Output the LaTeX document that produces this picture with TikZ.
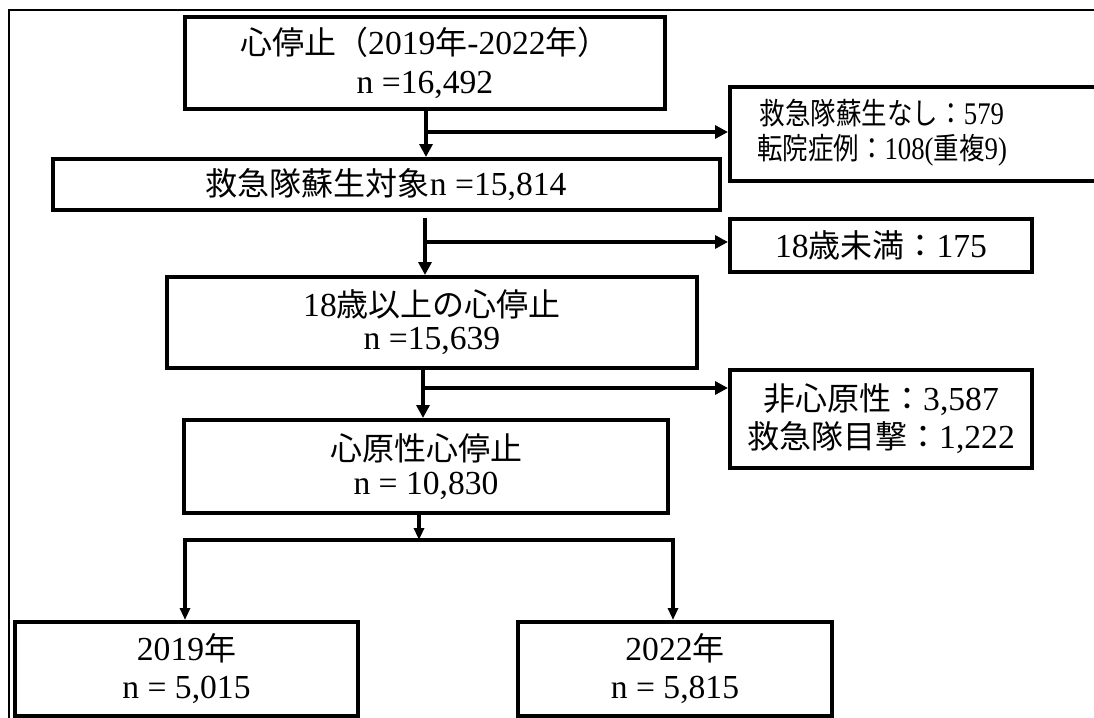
\documentclass[tikz,border=0pt]{standalone}
\usepackage{graphicx}
\usepackage{fontspec}
\setmainfont{Liberation Serif}[Scale=1.05]
\newfontfamily\jpf{Noto Sans CJK JP}
\newcommand{\J}[1]{{\jpf #1}}
\usetikzlibrary{arrows.meta}
\begin{document}
\begin{tikzpicture}[x=1pt,y=-1pt,
  box/.style={draw, line width=4pt, inner sep=0pt, align=center, anchor=north west,
    font=\fontsize{32}{38}\selectfont},
  frame/.style={line width=1.8pt},
  conn/.style={line width=4.5pt, -{Triangle[length=13pt,width=13pt]}},
  lconn/.style={line width=4pt, {Triangle[length=12pt,width=10pt]}-{Triangle[length=12pt,width=10pt]}},
  lseg/.style={line width=3.5pt, -{Triangle[length=12pt,width=10pt]}}
]
\useasboundingbox (0,0) rectangle (1094,717);
\clip (0,0) rectangle (1094,717);
\fill[white] (0,0) rectangle (1094,717);

% outer frame (only top and left edges visible)
\coordinate (fTL) at (9,10);
\coordinate (fTR) at (1100,10);
\coordinate (fBL) at (9,720);
\draw[frame] (fBL) -- (fTL) -- (fTR);

% boxes
\node[box, minimum width=480pt, minimum height=92pt, font=\fontsize{32}{39}\selectfont] (b1) at (183,15)
  {\J{心停止（}2019\J{年}-2022\J{年）}\\n =16,492};
\node[box, line width=3.5pt, minimum width=667pt, minimum height=51pt] (b2) at (51,157)
  {\J{救急隊蘇生対象}n =15,814};
\node[box, minimum width=380pt, minimum height=94pt,
  font=\fontsize{30}{33}\selectfont] (b3) at (728,85)
  {\hspace*{-76pt}\scalebox{0.85}[1]{\begin{tabular}{@{}c@{}}\J{救急隊蘇生なし：}579\\\J{転院症例：}108(\J{重複}9)\end{tabular}}};
\node[box, minimum width=302pt, minimum height=53pt] (b5) at (728,217)
  {18\J{歳未満：}175};
\node[box, minimum width=530pt, minimum height=91pt,
  font=\fontsize{32}{33}\selectfont] (b4) at (165,275)
  {18\J{歳以上の心停止}\\n =15,639};
\node[box, minimum width=302pt, minimum height=98pt] (b7) at (728,368)
  {\J{非心原性：}3,587\\\J{救急隊目撃：}1,222};
\node[box, minimum width=484pt, minimum height=93pt,
  font=\fontsize{32}{34}\selectfont] (b6) at (182,418)
  {\J{心原性心停止}\\n = 10,830};
\node[box, minimum width=343pt, minimum height=94pt] (b8) at (13,620)
  {2019\J{年}\\n = 5,015};
\node[box, minimum width=314pt, minimum height=94pt] (b9) at (516,620)
  {2022\J{年}\\n = 5,815};

% connector 1
\coordinate (v1) at (426,132);
\draw[conn] (b1.south -| v1) -- (b2.north -| v1);
\draw[conn] ([xshift=-2pt]v1) -- (v1 -| b3.west);

% connector 2
\coordinate (s2) at (425,218);
\coordinate (v2) at (425,242);
\draw[conn] (s2) -- (b4.north -| s2);
\draw[conn] ([xshift=-2pt]v2) -- (v2 -| b5.west);

% connector 3
\coordinate (v3) at (423,388);
\draw[conn] (b4.south -| v3) -- (b6.north -| v3);
\draw[conn] ([xshift=-2pt]v3) -- (v3 -| b7.west);

% connector 4 and split
\coordinate (v4) at (419,540);
\coordinate (L) at (185,540);
\coordinate (R) at (673,540);
\draw[lseg] (b6.south -| v4) -- (v4);
\draw[lconn] (b8.north -| L) -- (L) -- (R) -- (b9.north -| R);
\end{tikzpicture}
\end{document}
